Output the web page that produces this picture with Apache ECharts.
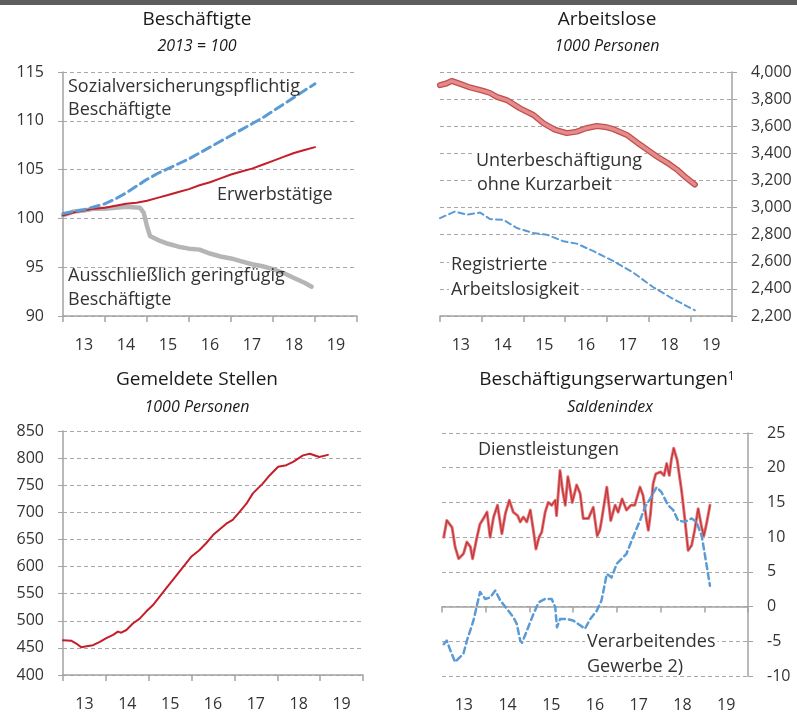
<!DOCTYPE html>
<html><head><meta charset="utf-8">
<script src="https://cdn.jsdelivr.net/npm/echarts@6/dist/echarts.min.js"></script>
<style>html,body{margin:0;padding:0;background:#fff}#c{width:797px;height:720px}</style>
</head><body><div id="c"></div>
<script>
// ---------- data ----------
const yearLabels = ['13','14','15','16','17','18','19'];

// Panel 1: Beschäftigte (2013 = 100)
const p1Years = [2013.0,2013.25,2013.5,2013.75,2014.0,2014.25,2014.5,2014.75,2015.0,2015.25,2015.5,2015.75,2016.0,2016.25,2016.5,2016.75,2017.0,2017.25,2017.5,2017.75,2018.0,2018.25,2018.5,2018.75,2019.0];
const p1Sozial = [100.5,100.7,100.9,101.2,101.5,102.0,102.6,103.3,104.0,104.6,105.1,105.6,106.1,106.7,107.3,107.9,108.5,109.1,109.7,110.3,111.0,111.7,112.4,113.1,113.8];
const p1Erwerb = [100.3,100.6,100.8,101.0,101.1,101.3,101.5,101.6,101.8,102.1,102.4,102.7,103.0,103.4,103.7,104.1,104.5,104.8,105.1,105.5,105.9,106.3,106.7,107.0,107.3];
const p1GeringYears = [2013.0,2013.25,2013.5,2013.75,2014.0,2014.25,2014.5,2014.83,2014.92,2015.0,2015.07,2015.25,2015.5,2015.75,2016.0,2016.25,2016.5,2016.75,2017.0,2017.25,2017.5,2017.75,2018.0,2018.25,2018.5,2018.75,2018.92];
const p1Gering = [100.3,100.7,100.8,101.0,101.0,101.1,101.2,101.1,100.6,99.2,98.2,97.8,97.4,97.1,96.9,96.8,96.4,96.1,95.9,95.6,95.3,95.1,94.8,94.4,93.9,93.4,93.0];

// Panel 2: Arbeitslose (1000 Personen)
const p2UnterYears = [2013.0,2013.15,2013.28,2013.5,2013.72,2014.04,2014.2,2014.36,2014.6,2014.92,2015.24,2015.48,2015.75,2016.04,2016.28,2016.5,2016.76,2017.0,2017.16,2017.48,2017.8,2018.0,2018.2,2018.45,2018.68,2018.9,2019.11];
const p2Unter = [3903,3915,3934,3910,3886,3861,3845,3817,3793,3732,3683,3622,3575,3549,3560,3585,3602,3592,3578,3536,3463,3420,3377,3330,3280,3220,3170];
const p2RegYears = [2013.0,2013.36,2013.64,2013.96,2014.2,2014.52,2014.84,2015.24,2015.56,2015.96,2016.28,2016.68,2017.16,2017.64,2018.12,2018.6,2019.11];
const p2Reg = [2922,2971,2947,2963,2915,2910,2849,2812,2800,2751,2734,2678,2604,2519,2410,2324,2242];

// Panel 3: Gemeldete Stellen (1000 Personen)
const p3Years = [2013.0,2013.2,2013.31,2013.43,2013.55,2013.7,2013.86,2014.01,2014.17,2014.28,2014.36,2014.48,2014.63,2014.79,2014.94,2015.1,2015.25,2015.41,2015.56,2015.68,2015.8,2015.99,2016.18,2016.34,2016.5,2016.81,2016.96,2017.12,2017.28,2017.43,2017.66,2017.82,2018.02,2018.21,2018.37,2018.6,2018.76,2018.98,2019.18];
const p3Stellen = [464,463,458,451,453,455,461,468,474,480,478,483,495,504,517,529,544,560,575,587,599,618,630,643,658,679,686,701,716,735,753,768,784,787,793,805,808,802,806];

// Panel 4: Beschäftigungserwartungen (Saldenindex)
const p4DienstYears = [2013.04,2013.11,2013.23,2013.30,2013.38,2013.49,2013.57,2013.65,2013.70,2013.80,2013.87,2013.95,2014.03,2014.10,2014.18,2014.27,2014.37,2014.45,2014.54,2014.63,2014.73,2014.79,2014.86,2014.94,2015.02,2015.09,2015.15,2015.22,2015.28,2015.36,2015.43,2015.51,2015.59,2015.62,2015.70,2015.76,2015.82,2015.88,2015.93,2015.98,2016.08,2016.16,2016.23,2016.35,2016.46,2016.55,2016.61,2016.65,2016.77,2016.86,2016.96,2017.03,2017.12,2017.22,2017.32,2017.41,2017.53,2017.60,2017.68,2017.72,2017.77,2017.83,2017.89,2018.00,2018.08,2018.14,2018.20,2018.25,2018.30,2018.38,2018.48,2018.55,2018.63,2018.71,2018.78,2018.86,2018.94,2018.99,2019.05,2019.13];
const p4Dienst = [10.0,12.4,11.4,8.6,6.9,7.6,9.3,8.6,6.9,10.0,11.9,12.7,13.6,10.0,12.9,14.6,10.5,13.4,15.3,13.6,13.1,12.2,12.9,12.2,13.9,11.0,8.3,10.0,10.7,13.6,15.0,14.6,15.3,13.1,19.6,16.7,14.6,18.7,17.0,15.0,17.5,16.3,12.7,12.7,14.3,10.2,11.0,12.4,17.2,12.4,14.6,13.6,15.5,13.9,14.6,14.6,17.2,16.0,12.4,11.0,13.4,17.7,19.1,19.4,18.9,20.6,18.9,21.3,22.8,21.1,16.7,12.9,8.1,8.8,11.0,14.1,11.4,10.2,11.9,14.6];
const p4VerarbYears = [2013.04,2013.11,2013.19,2013.30,2013.49,2013.57,2013.72,2013.87,2013.99,2014.10,2014.22,2014.33,2014.48,2014.63,2014.71,2014.79,2014.83,2014.94,2015.09,2015.21,2015.36,2015.51,2015.59,2015.63,2015.70,2015.85,2016.00,2016.16,2016.27,2016.39,2016.54,2016.65,2016.77,2016.88,2017.00,2017.11,2017.22,2017.37,2017.53,2017.64,2017.76,2017.91,2018.02,2018.17,2018.29,2018.40,2018.55,2018.71,2018.82,2018.94,2019.01,2019.13];
const p4Verarb = [-5.4,-4.9,-6.3,-8.0,-6.8,-4.9,-2.0,2.1,1.1,1.3,2.3,0.9,-0.3,-1.5,-2.5,-4.9,-5.2,-3.5,-1.1,0.6,1.1,1.1,-0.1,-3.0,-1.8,-1.8,-2.0,-2.7,-3.2,-1.8,-0.6,0.9,4.7,4.2,6.2,6.9,7.6,10.0,12.4,14.3,15.5,17.2,16.5,14.6,13.9,12.4,12.2,12.7,12.2,10.2,7.6,3.0];

// ---------- helpers ----------
const pairs = (xs, ys) => xs.map((x, i) => [x, ys[i]]);
const FONT = '"Open Sans", "Noto Sans", sans-serif';
const AXIS_COLOR = '#a3a3a3';
const TXT = '#333333';
const RED = '#c41e2a';
const BLUE = '#5b9bd5';

const grids = [
  {left: 63, top: 72, width: 294, height: 244},
  {left: 440, top: 72, width: 292, height: 244},
  {left: 63, top: 431, width: 300, height: 244},
  {left: 442, top: 433, width: 306, height: 243}
];

const xAxes = [];
grids.forEach((g, i) => {
  xAxes.push({
    type: 'value', gridIndex: i, min: 2013, max: 2020, interval: 1, position: 'bottom',
    axisLine: {show: true, onZero: i === 3, lineStyle: {color: AXIS_COLOR, width: 1.5}},
    axisTick: {show: true, length: 6, lineStyle: {color: AXIS_COLOR, width: 1.5}},
    axisLabel: {show: false}, splitLine: {show: false}
  });
  xAxes.push({
    type: 'category', gridIndex: i, data: yearLabels, position: 'bottom', boundaryGap: true,
    axisLine: {show: false, onZero: false}, axisTick: {show: false},
    axisLabel: {show: true, margin: 21, fontSize: 16, color: TXT, fontFamily: FONT}
  });
});

function yAx(i, min, max, interval, pos) {
  return {
    type: 'value', gridIndex: i, min, max, interval, position: pos,
    axisLine: {show: true, onZero: false, lineStyle: {color: AXIS_COLOR, width: 1.5}},
    axisTick: {show: true, length: 5, lineStyle: {color: AXIS_COLOR, width: 1}},
    axisLabel: {fontSize: 16, color: TXT, fontFamily: FONT, margin: 19},
    splitLine: {show: true, lineStyle: {type: [4, 3], color: '#a8a8a8', width: 1}}
  };
}
const yAxes = [
  yAx(0, 90, 115, 5, 'left'),
  yAx(1, 2200, 4000, 200, 'right'),
  yAx(2, 400, 850, 50, 'left'),
  yAx(3, -10, 25, 5, 'right')
];

function line(xi, yi, data, color, width, type, z) {
  return {
    type: 'line', xAxisIndex: xi, yAxisIndex: yi, data, showSymbol: false, symbol: 'none',
    lineStyle: {color, width, type: type || 'solid', cap: 'round', join: 'round'}, z: z || 2,
    silent: true
  };
}

const series = [
  line(0, 0, pairs(p1GeringYears, p1Gering), '#b5b5b5', 4.5, 'solid', 2),
  line(0, 0, pairs(p1Years, p1Erwerb), RED, 2, 'solid', 3),
  line(0, 0, pairs(p1Years, p1Sozial), BLUE, 3, [9, 5], 4),
  line(2, 1, pairs(p2UnterYears, p2Unter), '#c24d4d', 6, 'solid', 2),
  line(2, 1, pairs(p2UnterYears, p2Unter), '#e48c8c', 3.5, 'solid', 3),
  line(2, 1, pairs(p2RegYears, p2Reg), BLUE, 2, [6, 4], 4),
  line(4, 2, pairs(p3Years, p3Stellen), RED, 2, 'solid', 3),
  line(6, 3, pairs(p4DienstYears, p4Dienst), '#e07a7a', 3, 'solid', 2),
  line(6, 3, pairs(p4DienstYears, p4Dienst), '#c8323a', 1.2, 'solid', 3),
  line(6, 3, pairs(p4VerarbYears, p4Verarb), BLUE, 2.5, [6, 4], 4)
];

function txt(text, x, y, opts) {
  opts = opts || {};
  const style = {
    text, x, y, font: (opts.italic ? 'italic ' : '') + (opts.size || 18) + 'px ' + FONT,
    fill: opts.fill || TXT,
    align: opts.align || 'left', textAlign: opts.align || 'left',
    verticalAlign: 'middle', textVerticalAlign: 'middle'
  };
  if (opts.bg) { style.backgroundColor = '#ffffff'; style.padding = [0, 2]; }
  return {type: 'text', z: 100, silent: true, style};
}

const graphics = [
  {type: 'rect', shape: {x: 0, y: 0, width: 797, height: 5}, style: {fill: '#5e5e5e'}, z: 100, silent: true},
  // titles
  txt('Beschäftigte', 197, 20, {size: 19, align: 'center', fill: '#1a1a1a'}),
  txt('2013 = 100', 197, 46, {size: 16, align: 'center', italic: true, fill: '#1a1a1a'}),
  txt('Arbeitslose', 607, 20, {size: 19, align: 'center', fill: '#1a1a1a'}),
  txt('1000 Personen', 607, 46, {size: 16, align: 'center', italic: true, fill: '#1a1a1a'}),
  txt('Gemeldete Stellen', 197, 380, {size: 19, align: 'center', fill: '#1a1a1a'}),
  txt('1000 Personen', 197, 407, {size: 16, align: 'center', italic: true, fill: '#1a1a1a'}),
  {type: 'text', z: 100, silent: true, style: {
    text: '{a|Beschäftigungserwartungen}{s|1}', x: 607, y: 380,
    align: 'center', textAlign: 'center', verticalAlign: 'middle', textVerticalAlign: 'middle',
    font: '19px ' + FONT, fill: '#1a1a1a',
    rich: {
      a: {font: '19px ' + FONT, fill: '#1a1a1a'},
      s: {font: '12px ' + FONT, fill: '#1a1a1a', verticalAlign: 'top', textVerticalAlign: 'top'}
    }
  }},
  txt('Saldenindex', 610, 407, {size: 16, align: 'center', italic: true, fill: '#1a1a1a'}),
  // series labels
  txt('Sozialversicherungspflichtig', 68, 87),
  txt('Beschäftigte', 68, 110),
  txt('Erwerbstätige', 217, 195),
  txt('Ausschließlich geringfügig', 68, 276),
  txt('Beschäftigte', 68, 300),
  txt('Unterbeschäftigung', 474, 161, {bg: true}),
  txt('ohne Kurzarbeit', 475, 185, {bg: true}),
  txt('Registrierte', 449, 265, {bg: true}),
  txt('Arbeitslosigkeit', 449, 290, {bg: true}),
  txt('Dienstleistungen', 476, 450, {bg: true}),
  txt('Verarbeitendes', 585, 642, {bg: true}),
  txt('Gewerbe 2)', 585, 667, {bg: true})
];

const chart = echarts.init(document.getElementById('c'), null, {renderer: 'canvas'});
chart.setOption({
  animation: false,
  backgroundColor: '#ffffff',
  textStyle: {fontFamily: FONT},
  grid: grids.map(g => Object.assign({containLabel: false}, g)),
  xAxis: xAxes,
  yAxis: yAxes,
  series,
  graphic: {elements: graphics}
});
</script>
</body></html>
